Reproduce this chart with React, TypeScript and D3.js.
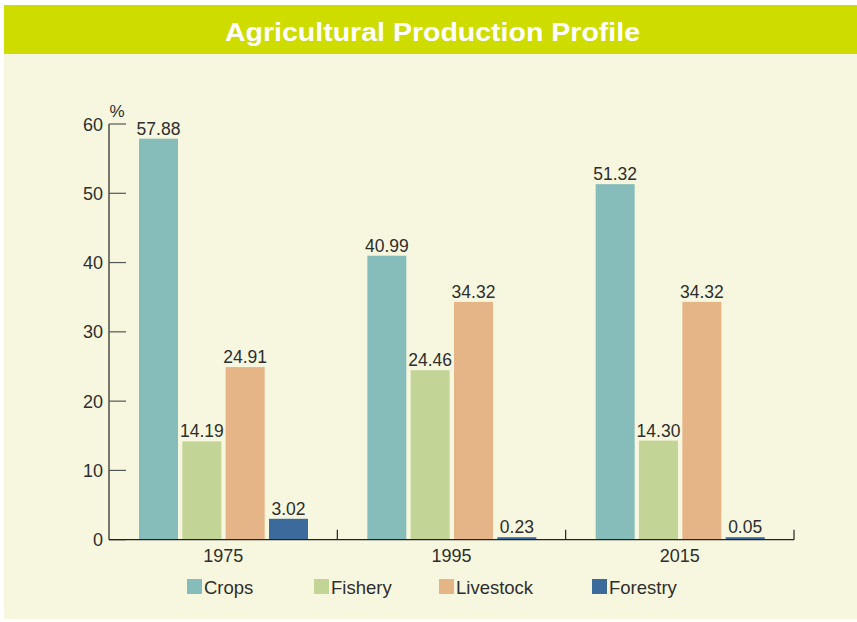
import React from "react";
import * as d3 from "d3";

const years = ["1975", "1995", "2015"];
const seriesNames = ["Crops", "Fishery", "Livestock", "Forestry"];
const crops = [57.88, 40.99, 51.32];
const fishery = [14.19, 24.46, 14.3];
const livestock = [24.91, 34.32, 34.32];
const forestry = [3.02, 0.23, 0.05];
const yTicks = [0, 10, 20, 30, 40, 50, 60];
const colors = ["#86bdba", "#c2d597", "#e5b487", "#3d6a9c"];

const W = 857;
const H = 622;
const FONT = "'Liberation Sans', Arial, sans-serif";

export default function App() {
  const values = [crops, fishery, livestock, forestry];
  const x0 = d3.scaleBand<string>().domain(years).range([109, 794]).paddingInner(0).paddingOuter(0);
  const x1 = d3.scaleBand<string>().domain(seriesNames).range([30, 199]).paddingInner(0.1).paddingOuter(0);
  const y = d3.scaleLinear().domain([0, 60]).range([539.7, 124]);
  const fmt = d3.format(".2f");

  return (
    <svg width={W} height={H} style={{ position: "absolute", left: 0, top: 0 }} fontFamily={FONT}>
      <rect x={0} y={0} width={W} height={H} fill="#ffffff" />
      <rect x={4} y={54} width={W - 4} height={565} fill="#f7f7df" />
      <rect x={4} y={5} width={W - 4} height={49} fill="#cfdc00" />
      <text
        x={225}
        y={41}
        fill="#ffffff"
        fontWeight="bold"
        fontSize={25}
        textLength={415}
        lengthAdjust="spacingAndGlyphs"
      >
        Agricultural Production Profile
      </text>

      {/* bars */}
      {years.map((yr, gi) => (
        <g key={yr} transform={`translate(${x0(yr)},0)`}>
          {seriesNames.map((s, si) => {
            const v = values[si][gi];
            const top = Math.min(y(v), y(0) - 2.5);
            return (
              <g key={s}>
                <rect x={x1(s)} y={top} width={x1.bandwidth()} height={y(0) - top} fill={colors[si]} />
                <text
                  x={(x1(s) as number) + x1.bandwidth() / 2}
                  y={top - 4}
                  textAnchor="middle"
                  fontSize={17.5}
                  fill="#2e2e2e"
                >
                  {fmt(v)}
                </text>
              </g>
            );
          })}
        </g>
      ))}

      {/* y axis */}
      <line x1={109} x2={109} y1={y(60)} y2={y(0)} stroke="#222" strokeWidth={1.2} />
      {yTicks.map((t) => (
        <g key={t}>
          <line x1={109} x2={126} y1={y(t)} y2={y(t)} stroke="#555" strokeWidth={1.2} />
          <text x={103} y={y(t) + 6.5} textAnchor="end" fontSize={18} fill="#2e2e2e">
            {t}
          </text>
        </g>
      ))}
      <text x={117} y={117} textAnchor="middle" fontSize={17} fill="#2e2e2e">
        %
      </text>

      {/* x axis */}
      <line x1={109} x2={794} y1={y(0)} y2={y(0)} stroke="#222" strokeWidth={1.2} />
      {years.map((yr) => (
        <g key={yr}>
          <line
            x1={(x0(yr) as number) + x0.bandwidth()}
            x2={(x0(yr) as number) + x0.bandwidth()}
            y1={y(0)}
            y2={y(0) - 10}
            stroke="#222"
            strokeWidth={1.2}
          />
          <text
            x={(x0(yr) as number) + x0.bandwidth() / 2}
            y={562}
            textAnchor="middle"
            fontSize={18}
            fill="#2e2e2e"
          >
            {yr}
          </text>
        </g>
      ))}

      {/* legend */}
      {seriesNames.map((s, i) => {
        const lx = [187, 314, 439, 592][i];
        return (
          <g key={s}>
            <rect x={lx} y={579} width={15} height={15} fill={colors[i]} />
            <text x={lx + 17} y={594} fontSize={18.5} fill="#2e2e2e">
              {s}
            </text>
          </g>
        );
      })}
    </svg>
  );
}
